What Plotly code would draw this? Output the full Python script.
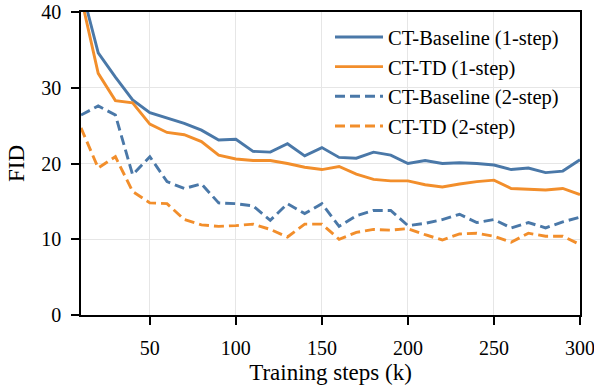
import plotly.graph_objects as go

steps = list(range(10, 301, 10))
baseline_1step = [43.4, 34.6, 31.4, 28.4, 26.7, 26.0, 25.3, 24.4, 23.1, 23.2,
                  21.6, 21.5, 22.6, 21.0, 22.1, 20.8, 20.7, 21.5, 21.1, 20.0,
                  20.4, 20.0, 20.1, 20.0, 19.8, 19.2, 19.4, 18.8, 19.0, 20.5]
td_1step = [42.0, 31.9, 28.3, 28.0, 25.2, 24.1, 23.8, 22.9, 21.1, 20.6,
            20.4, 20.4, 20.0, 19.5, 19.2, 19.6, 18.6, 17.9, 17.7, 17.7,
            17.2, 16.9, 17.3, 17.6, 17.8, 16.7, 16.6, 16.5, 16.7, 15.9]
baseline_2step = [26.4, 27.6, 26.4, 18.5, 20.9, 17.6, 16.7, 17.3, 14.8, 14.7,
                  14.4, 12.5, 14.7, 13.4, 14.7, 11.7, 13.1, 13.8, 13.8, 11.8,
                  12.1, 12.6, 13.3, 12.2, 12.6, 11.5, 12.2, 11.5, 12.3, 12.9]
td_2step = [24.7, 19.4, 20.9, 16.3, 14.8, 14.7, 12.6, 11.9, 11.7, 11.8,
            12.0, 11.3, 10.3, 12.0, 12.0, 10.0, 10.9, 11.3, 11.2, 11.4,
            10.6, 9.9, 10.7, 10.8, 10.4, 9.6, 10.8, 10.4, 10.4, 9.3]
x_ticks = [50, 100, 150, 200, 250, 300]
y_ticks = [0, 10, 20, 30, 40]

BLUE = "#4a78a8"
ORANGE = "#f28e2b"
FONT = "Times New Roman"

series = [
    ("CT-Baseline (1-step)", baseline_1step, BLUE, "solid"),
    ("CT-TD (1-step)", td_1step, ORANGE, "solid"),
    ("CT-Baseline (2-step)", baseline_2step, BLUE, "10px,5px"),
    ("CT-TD (2-step)", td_2step, ORANGE, "10px,5px"),
]

fig = go.Figure()
for i, (name, vals, color, dash) in enumerate(series):
    fig.add_trace(go.Scatter(x=steps, y=vals, mode="lines", name=name,
                             legendgroup=f"g{i}",
                             line=dict(color=color, width=2.9, dash=dash)))

axis_common = dict(showline=True, linecolor="black", linewidth=1.6, mirror=True,
                   ticks="outside", ticklen=8, tickwidth=1.6, tickcolor="black",
                   showgrid=True, gridcolor="#e6e6e6", gridwidth=1, zeroline=False,
                   automargin=False, ticklabeloverflow="allow", ticklabelstandoff=6,
                   tickfont=dict(family=FONT, size=20, color="black"))

fig.update_layout(
    width=594, height=385,
    margin=dict(l=81, r=14, t=12, b=70),
    paper_bgcolor="white", plot_bgcolor="white",
    font=dict(family=FONT, color="black"),
    xaxis=dict(range=[10, 300], tickvals=x_ticks,
               title=dict(text="Training steps (k)", font=dict(family=FONT, size=23), standoff=6),
               **axis_common),
    yaxis=dict(range=[0, 40], tickvals=y_ticks,
               title=dict(text="FID", font=dict(family=FONT, size=23), standoff=10),
               **axis_common),
    legend=dict(x=0.499, y=0.983, xanchor="left", yanchor="top",
                bgcolor="rgba(255,255,255,0)", borderwidth=0,
                font=dict(family=FONT, size=20.5), itemwidth=48, tracegroupgap=0),
    showlegend=True,
)

fig.write_html("out.html")
